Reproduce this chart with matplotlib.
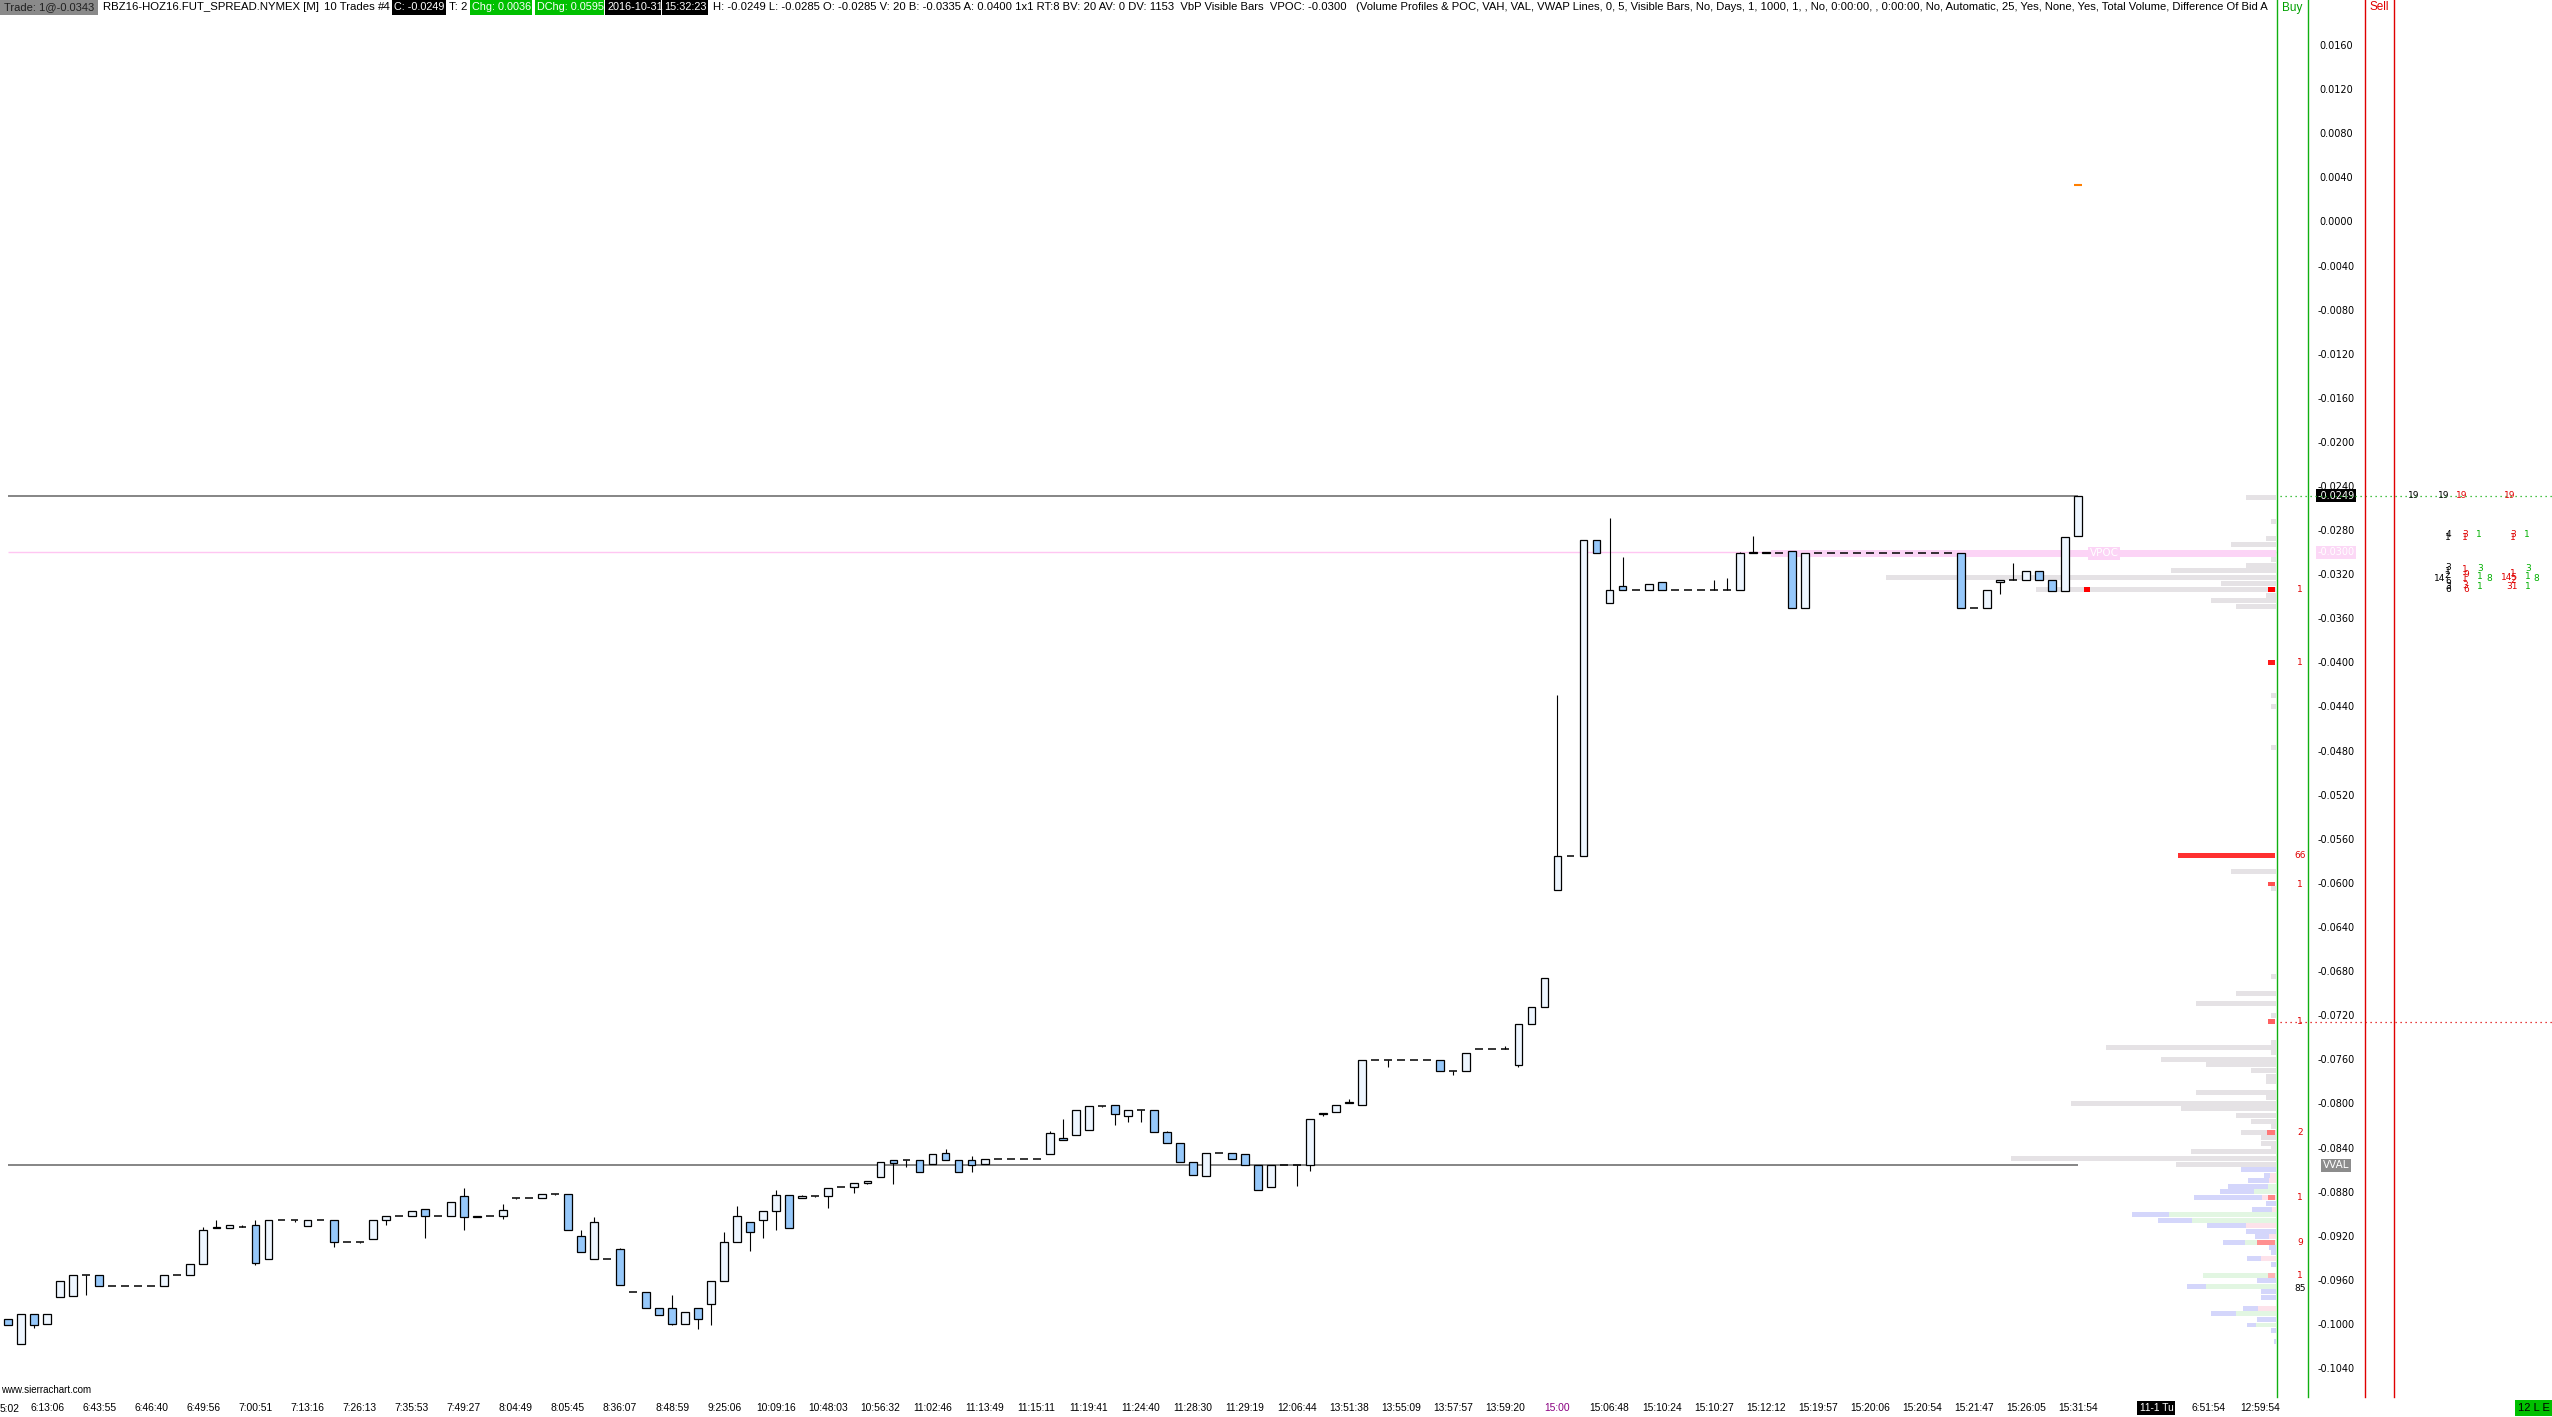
import matplotlib
matplotlib.use('Agg')
import matplotlib.pyplot as plt
from matplotlib.lines import Line2D
from matplotlib.patches import Rectangle
import numpy as np

W, H, DPI = 2552, 1417, 100
X0, DX = 8.1, 13.02          # px of bar 0, px per bar
Y0, PPU = 221.4, 11025.0     # px of price 0, px per price unit
PANE_R = 2277                # green separator line (px)
FONT = 'Liberation Sans'

# ---------------- bars (one per trade bar) ----------------
opens = [
    -0.0996, -0.1018, -0.0991, -0.1000, -0.0976, -0.0975, -0.0956, -0.0956, -0.0966, -0.0966,
    -0.0966, -0.0966, -0.0966, -0.0956, -0.0956, -0.0946, -0.0912, -0.0913, -0.0912, -0.0910,
    -0.0941, -0.0906, -0.0906, -0.0911, -0.0906, -0.0906, -0.0926, -0.0926, -0.0923, -0.0906,
    -0.0902, -0.0902, -0.0896, -0.0902, -0.0902, -0.0884, -0.0903, -0.0902, -0.0902, -0.0886,
    -0.0886, -0.0886, -0.0882, -0.0882, -0.0920, -0.0941, -0.0941, -0.0932, -0.0971, -0.0971,
    -0.0986, -0.0986, -0.1000, -0.0986, -0.0982, -0.0961, -0.0926, -0.0908, -0.0906, -0.0898,
    -0.0883, -0.0886, -0.0884, -0.0884, -0.0876, -0.0876, -0.0872, -0.0867, -0.0851, -0.0851,
    -0.0851, -0.0855, -0.0845, -0.0851, -0.0851, -0.0855, -0.0850, -0.0850, -0.0850, -0.0850,
    -0.0846, -0.0831, -0.0829, -0.0824, -0.0802, -0.0801, -0.0811, -0.0806, -0.0806, -0.0826,
    -0.0836, -0.0853, -0.0866, -0.0845, -0.0845, -0.0846, -0.0856, -0.0876, -0.0856, -0.0856,
    -0.0856, -0.0810, -0.0808, -0.0800, -0.0801, -0.0761, -0.0761, -0.0761, -0.0761, -0.0761,
    -0.0761, -0.0771, -0.0771, -0.0751, -0.0751, -0.0751, -0.0765, -0.0728, -0.0713, -0.0606,
    -0.0576, -0.0576, -0.0289, -0.0346, -0.0331, -0.0334, -0.0334, -0.0327, -0.0334, -0.0334,
    -0.0334, -0.0334, -0.0334, -0.0334, -0.0300, -0.0300, -0.0301, -0.0299, -0.0351, -0.0301,
    -0.0301, -0.0301, -0.0301, -0.0301, -0.0301, -0.0301, -0.0301, -0.0301, -0.0301, -0.0301,
    -0.0301, -0.0351, -0.0351, -0.0327, -0.0325, -0.0325, -0.0317, -0.0325, -0.0335, -0.0285,
]
highs = [
    -0.0996, -0.0991, -0.0991, -0.0991, -0.0961, -0.0956, -0.0956, -0.0956, -0.0966, -0.0966,
    -0.0966, -0.0966, -0.0956, -0.0956, -0.0946, -0.0912, -0.0906, -0.0910, -0.0910, -0.0906,
    -0.0906, -0.0906, -0.0906, -0.0906, -0.0906, -0.0906, -0.0926, -0.0926, -0.0906, -0.0902,
    -0.0902, -0.0898, -0.0896, -0.0902, -0.0889, -0.0877, -0.0902, -0.0902, -0.0891, -0.0886,
    -0.0886, -0.0882, -0.0882, -0.0882, -0.0915, -0.0903, -0.0941, -0.0931, -0.0971, -0.0971,
    -0.0986, -0.0974, -0.0989, -0.0986, -0.0961, -0.0917, -0.0893, -0.0908, -0.0898, -0.0879,
    -0.0883, -0.0883, -0.0884, -0.0877, -0.0876, -0.0872, -0.0870, -0.0853, -0.0851, -0.0851,
    -0.0851, -0.0846, -0.0841, -0.0851, -0.0848, -0.0850, -0.0850, -0.0850, -0.0850, -0.0850,
    -0.0825, -0.0814, -0.0806, -0.0802, -0.0802, -0.0801, -0.0806, -0.0806, -0.0806, -0.0825,
    -0.0836, -0.0853, -0.0845, -0.0845, -0.0845, -0.0846, -0.0856, -0.0856, -0.0856, -0.0856,
    -0.0814, -0.0809, -0.0801, -0.0796, -0.0761, -0.0761, -0.0761, -0.0761, -0.0761, -0.0761,
    -0.0761, -0.0771, -0.0754, -0.0751, -0.0751, -0.0748, -0.0728, -0.0713, -0.0686, -0.0430,
    -0.0576, -0.0289, -0.0289, -0.0269, -0.0304, -0.0334, -0.0329, -0.0327, -0.0334, -0.0334,
    -0.0334, -0.0325, -0.0323, -0.0300, -0.0285, -0.0300, -0.0301, -0.0299, -0.0301, -0.0301,
    -0.0301, -0.0301, -0.0301, -0.0301, -0.0301, -0.0301, -0.0301, -0.0301, -0.0301, -0.0301,
    -0.0301, -0.0351, -0.0334, -0.0325, -0.0310, -0.0317, -0.0317, -0.0325, -0.0286, -0.0249,
]
lows = [
    -0.1001, -0.1018, -0.1004, -0.1000, -0.0976, -0.0975, -0.0974, -0.0966, -0.0966, -0.0966,
    -0.0966, -0.0966, -0.0966, -0.0956, -0.0956, -0.0946, -0.0913, -0.0913, -0.0912, -0.0947,
    -0.0941, -0.0906, -0.0908, -0.0911, -0.0906, -0.0930, -0.0926, -0.0927, -0.0923, -0.0910,
    -0.0902, -0.0902, -0.0922, -0.0902, -0.0902, -0.0915, -0.0903, -0.0902, -0.0905, -0.0887,
    -0.0886, -0.0886, -0.0883, -0.0915, -0.0935, -0.0941, -0.0941, -0.0965, -0.0971, -0.0986,
    -0.0992, -0.1001, -0.1000, -0.1005, -0.1001, -0.0961, -0.0926, -0.0934, -0.0922, -0.0915,
    -0.0913, -0.0886, -0.0885, -0.0895, -0.0876, -0.0881, -0.0873, -0.0867, -0.0873, -0.0858,
    -0.0862, -0.0855, -0.0851, -0.0862, -0.0862, -0.0855, -0.0850, -0.0850, -0.0850, -0.0850,
    -0.0846, -0.0833, -0.0829, -0.0824, -0.0803, -0.0820, -0.0817, -0.0817, -0.0826, -0.0836,
    -0.0853, -0.0865, -0.0866, -0.0845, -0.0850, -0.0856, -0.0879, -0.0876, -0.0856, -0.0875,
    -0.0861, -0.0811, -0.0808, -0.0800, -0.0801, -0.0761, -0.0767, -0.0761, -0.0761, -0.0761,
    -0.0771, -0.0774, -0.0771, -0.0751, -0.0751, -0.0751, -0.0767, -0.0728, -0.0713, -0.0606,
    -0.0576, -0.0576, -0.0301, -0.0346, -0.0334, -0.0334, -0.0334, -0.0334, -0.0334, -0.0334,
    -0.0334, -0.0334, -0.0334, -0.0334, -0.0301, -0.0301, -0.0301, -0.0351, -0.0351, -0.0301,
    -0.0301, -0.0301, -0.0301, -0.0301, -0.0301, -0.0301, -0.0301, -0.0301, -0.0301, -0.0301,
    -0.0351, -0.0351, -0.0351, -0.0338, -0.0325, -0.0325, -0.0325, -0.0335, -0.0335, -0.0285,
]
closes = [
    -0.1001, -0.0991, -0.1001, -0.0991, -0.0961, -0.0956, -0.0956, -0.0966, -0.0966, -0.0966,
    -0.0966, -0.0966, -0.0956, -0.0956, -0.0946, -0.0915, -0.0913, -0.0910, -0.0912, -0.0945,
    -0.0906, -0.0906, -0.0906, -0.0906, -0.0906, -0.0926, -0.0926, -0.0926, -0.0906, -0.0902,
    -0.0902, -0.0898, -0.0902, -0.0902, -0.0889, -0.0903, -0.0902, -0.0902, -0.0897, -0.0886,
    -0.0886, -0.0882, -0.0882, -0.0915, -0.0935, -0.0908, -0.0941, -0.0965, -0.0971, -0.0986,
    -0.0992, -0.1000, -0.0989, -0.0996, -0.0961, -0.0926, -0.0902, -0.0917, -0.0898, -0.0883,
    -0.0913, -0.0884, -0.0884, -0.0877, -0.0876, -0.0872, -0.0870, -0.0853, -0.0854, -0.0851,
    -0.0862, -0.0846, -0.0851, -0.0862, -0.0856, -0.0850, -0.0850, -0.0850, -0.0850, -0.0850,
    -0.0827, -0.0833, -0.0806, -0.0802, -0.0802, -0.0810, -0.0806, -0.0806, -0.0826, -0.0836,
    -0.0853, -0.0865, -0.0845, -0.0845, -0.0850, -0.0856, -0.0879, -0.0856, -0.0856, -0.0856,
    -0.0814, -0.0809, -0.0801, -0.0799, -0.0761, -0.0761, -0.0761, -0.0761, -0.0761, -0.0761,
    -0.0771, -0.0771, -0.0754, -0.0751, -0.0751, -0.0751, -0.0728, -0.0713, -0.0686, -0.0576,
    -0.0576, -0.0289, -0.0301, -0.0334, -0.0334, -0.0334, -0.0329, -0.0334, -0.0334, -0.0334,
    -0.0334, -0.0334, -0.0334, -0.0301, -0.0301, -0.0301, -0.0301, -0.0351, -0.0301, -0.0301,
    -0.0301, -0.0301, -0.0301, -0.0301, -0.0301, -0.0301, -0.0301, -0.0301, -0.0301, -0.0301,
    -0.0351, -0.0351, -0.0334, -0.0325, -0.0325, -0.0317, -0.0325, -0.0335, -0.0286, -0.0249,
]

tick_bars = list(range(3, 160, 4)) + [165, 169, 173]
tick_labels = [
    '6:13:06', '6:43:55', '6:46:40', '6:49:56', '7:00:51', '7:13:16', '7:26:13', '7:35:53',
    '7:49:27', '8:04:49', '8:05:45', '8:36:07', '8:48:59', '9:25:06', '10:09:16', '10:48:03',
    '10:56:32', '11:02:46', '11:13:49', '11:15:11', '11:19:41', '11:24:40', '11:28:30', '11:29:19',
    '12:06:44', '13:51:38', '13:55:09', '13:57:57', '13:59:20', '15:00', '15:06:48', '15:10:24',
    '15:10:27', '15:12:12', '15:19:57', '15:20:06', '15:20:54', '15:21:47', '15:26:05', '15:31:54',
    '11-1 Tu', '6:51:54', '12:59:54',
]
price_ticks = [round(0.016 - 0.004 * k, 4) for k in range(31)]

# ---------------- volume profile (visible bars) ----------------
vp_price = [-0.0250, -0.0272, -0.0288, -0.0293, -0.0307, -0.0312, -0.0317, -0.0323, -0.0328,
            -0.0334, -0.0339, -0.0344, -0.0349, -0.0430, -0.0440, -0.0477, -0.0590, -0.0605,
            -0.0685, -0.0700, -0.0709, -0.0720, -0.0745, -0.0749, -0.0754, -0.0760, -0.0765,
            -0.0770, -0.0776, -0.0780, -0.0790, -0.0795, -0.0800, -0.0805, -0.0811, -0.0816,
            -0.0821, -0.0826, -0.0831, -0.0836, -0.0840, -0.0844, -0.0850, -0.0855]
vp_volume = [6, 1, 2, 9, 1, 6, 21, 78, 11, 48, 2, 13, 8, 1, 1, 1, 9, 1,
             1, 8, 16, 1, 1, 34, 1, 23, 14, 5, 2, 2, 16, 2, 41, 19, 8, 5,
             1, 7, 3, 3, 1, 17, 53, 20]
poc_price, poc_volume = -0.0301, 101

# rows below the value area: bid part (blue) + other part (green = ask, pink = mixed)
cv_price = [-0.0860, -0.0865, -0.0870, -0.0875, -0.0880, -0.0885, -0.0891, -0.0896, -0.0901,
            -0.0906, -0.0911, -0.0916, -0.0921, -0.0926, -0.0931, -0.0935, -0.0941, -0.0946,
            -0.0956, -0.0961, -0.0966, -0.0971, -0.0976, -0.0986, -0.0991, -0.0996, -0.1001,
            -0.1006, -0.1016]
cv_blue = [7, 1.2, 4.2, 8, 6.8, 13.6, 2, 4, 7.4, 6.8, 7.8, 6, 2.8, 4.4, 1.4, 1, 2.8, 1,
           0, 3.8, 3.8, 3, 3, 3, 5, 3.8, 1.8, 1, 0.4]
cv_other = [0, 1.2, 1.4, 1.6, 4.4, 2.8, 0, 0.8, 21.4, 16.8, 6, 0, 1.4, 6.2, 0, 0, 3, 0,
            14.6, 0, 14, 0, 0, 3.6, 8, 0, 4, 0, 0]
cv_kind = ['g', 'p', 'p', 'g', 'g', 'p', 'g', 'p', 'g', 'g', 'p', 'g', 'p', 'g', 'g', 'g', 'p', 'g',
           'g', 'g', 'g', 'g', 'g', 'p', 'g', 'g', 'g', 'g', 'g']

# difference of bid/ask markers
dd_price = [-0.0334, -0.0400, -0.0575, -0.0601, -0.0726, -0.0826, -0.0885, -0.0926, -0.0956]
dd_volume = [1.4, 1.4, 19.4, 1.4, 1.4, 1.6, 1.4, 3.6, 1.4]
dd_count = ['1', '1', '66', '1', '1', '2', '1', '9', '1']
dd_color = ['#ff0000', '#ff1a1a', '#ff3030', '#ff5050', '#ff6060', '#ff7878', '#ff8888', '#ff9090', '#ffb4b4']

# numbers right of the sell column
nt_x = [2414, 2444, 2462, 2510, 2448, 2448, 2465, 2465, 2479, 2513, 2513, 2527,
        2448, 2448, 2447, 2440, 2448, 2448, 2448, 2465, 2466, 2465, 2465, 2466, 2480, 2480, 2480, 2489,
        2510, 2513, 2513, 2512, 2528, 2528, 2528, 2536]
nt_price = [-0.0249, -0.0249, -0.0249, -0.0249, -0.0284, -0.0287, -0.0284, -0.0287, -0.0284, -0.0284, -0.0287, -0.0284,
            -0.0314, -0.0318, -0.0321, -0.0324, -0.0327, -0.0331, -0.0334, -0.0316, -0.0320, -0.0324, -0.0330, -0.0334,
            -0.0315, -0.0322, -0.0331, -0.0324,
            -0.0323, -0.0319, -0.0326, -0.0331, -0.0315, -0.0322, -0.0331, -0.0324]
nt_text = ['19', '19', '19', '19', '4', '1', '3', '1', '1', '3', '1', '1',
           '3', '1', '2', '14', '6', '3', '6', '1', '9', '1', '3', '6', '3', '1', '1', '8',
           '145', '1', '2', '31', '3', '1', '1', '8']
nt_color = ['black', 'black', '#e00000', '#e00000'] + ['black', 'black', '#e00000', '#e00000', '#00b000',
            '#e00000', '#e00000', '#00b000'] + ['black'] * 7 + ['#e00000'] * 5 + ['#00b000'] * 4 + \
           ['#e00000'] * 4 + ['#00b000'] * 4

# ---------------- figure ----------------
fig = plt.figure(figsize=(W / DPI, H / DPI), dpi=DPI)
fig.patch.set_facecolor('white')


def fx(px):
    return px / W


def fy(py):
    return 1 - py / H


def py_of(p):
    return Y0 - p * PPU


TOP, BOT = 14, 1395
ax = fig.add_axes([0, fy(BOT), fx(PANE_R), (BOT - TOP) / H])
ax.set_xlim(-X0 / DX, (PANE_R - X0) / DX)
ax.set_ylim((Y0 - BOT) / PPU, (Y0 - TOP) / PPU)
for s in ax.spines.values():
    s.set_visible(False)

o = np.array(opens)
c = np.array(closes)
hi = np.array(highs)
lo = np.array(lows)
idx = np.arange(len(o))
up = c > o + 1e-9
dn = c < o - 1e-9
fl = ~(up | dn)
bw = 0.6

ax.vlines(idx, lo, hi, color='black', lw=0.8, zorder=3)
ax.bar(idx[up], (c - o)[up], bottom=o[up], width=bw, color='#eef6ff', edgecolor='black', lw=0.9, zorder=4)
ax.bar(idx[dn], (o - c)[dn], bottom=c[dn], width=bw, color='#96c8fa', edgecolor='black', lw=0.9, zorder=4)
ax.hlines(o[fl], idx[fl] - bw / 2, idx[fl] + bw / 2, color='black', lw=1.1, zorder=4)

anchor = (PANE_R - 1 - X0) / DX
v2b = 5.0 / DX   # volume units -> bar widths
rh = 0.00045

# value area high / low lines, VPOC line
ax.hlines([-0.0249, -0.0856], 0, len(o) - 1, color='#7c7c7c', lw=1.3, zorder=2)
ax.hlines(-0.0300, 0, anchor, color='#ffc6f2', lw=1.0, zorder=1)

vl = np.array(vp_volume) * v2b
ax.barh(vp_price, vl, left=anchor - vl, height=rh, color='#e5e2e5', lw=0, zorder=1.5)
ax.barh(poc_price, poc_volume * v2b, left=anchor - poc_volume * v2b, height=0.0006, color='#fcd4f6', lw=0, zorder=1.6)
cb = np.array(cv_blue) * v2b
co = np.array(cv_other) * v2b
ocol = ['#e2f6e2' if k == 'g' else '#fde2ea' for k in cv_kind]
ax.barh(cv_price, co, left=anchor - co, height=rh, color=ocol, lw=0, zorder=1.5)
ax.barh(cv_price, cb, left=anchor - co - cb, height=rh, color='#d4d6fb', lw=0, zorder=1.5)
dl = np.array(dd_volume) * v2b
ax.barh(dd_price, dl, left=anchor - 0.1 - dl, height=0.00045, color=dd_color, lw=0, zorder=2)

# markers near the last bar
ax.bar(159.7, 0.0004, bottom=-0.0336, width=0.45, color='#ff0000', lw=0, zorder=5)
ax.hlines(0.0033, 158.7, 159.3, color='#ff7f00', lw=1.5, zorder=5)
ax.text(161.0, -0.0301, 'VPOC', ha='center', va='center', color='white', fontsize=7.5,
        fontfamily='DejaVu Sans', zorder=6,
        bbox=dict(boxstyle='square,pad=0.15', fc='#fcd4f6', ec='none'))

# y axis labels (centered in price column)
ax.set_yticks(price_ticks)
ax.set_yticklabels(['%.4f' % (v if abs(v) > 1e-9 else 0.0) for v in price_ticks])
ax.yaxis.tick_right()
ax.tick_params(axis='y', length=0, pad=(2336 - PANE_R) * 72 / DPI, labelsize=7)
for t in ax.get_yticklabels():
    t.set_ha('center')
    t.set_fontfamily('DejaVu Sans')

# x axis labels
ax.set_xticks(tick_bars)
ax.set_xticklabels(tick_labels)
ax.tick_params(axis='x', length=0, pad=6, labelsize=7.4)
for t in ax.get_xticklabels():
    t.set_fontfamily(FONT)
    if t.get_text() == '11-1 Tu':
        t.set_color('white')
        t.set_bbox(dict(boxstyle='square,pad=0.2', fc='black', ec='none'))
    elif t.get_text() == '15:00':
        t.set_color('#8a0080')

# special price-axis boxes
xa = 2336 / PANE_R
ax.text(xa, -0.0249, '-0.0249', transform=ax.get_yaxis_transform(), ha='center', va='center',
        color='white', fontsize=7, fontfamily='DejaVu Sans', zorder=8, clip_on=False,
        bbox=dict(boxstyle='square,pad=0.15', fc='black', ec='none'))
ax.text(xa, -0.0300, '-0.0300', transform=ax.get_yaxis_transform(), ha='center', va='center',
        color='white', fontsize=7, fontfamily='DejaVu Sans', zorder=8, clip_on=False,
        bbox=dict(boxstyle='square,pad=0.15', fc='#fcd8f6', ec='none'))
ax.text(xa, -0.0856, 'VVAL', transform=ax.get_yaxis_transform(), ha='center', va='center',
        color='white', fontsize=7.5, fontfamily='DejaVu Sans', zorder=8, clip_on=False,
        bbox=dict(boxstyle='square,pad=0.15', fc='#8c8c8c', ec='none'))

# bid/ask difference counts
for p, s in zip(dd_price, dd_count):
    ax.text(2300 / PANE_R, p, s, transform=ax.get_yaxis_transform(), ha='center', va='center',
            color='#e00000', fontsize=6.5, fontfamily='DejaVu Sans', clip_on=False)
ax.text(2300 / PANE_R, -0.0968, '85', transform=ax.get_yaxis_transform(), ha='center', va='center',
        color='black', fontsize=6.5, fontfamily='DejaVu Sans', clip_on=False)

# ---------------- separators and dotted level lines ----------------
for x, col in [(2277, '#10b010'), (2308, '#10b010'), (2365, '#e00000'), (2394, '#e00000')]:
    fig.add_artist(Line2D([fx(x), fx(x)], [fy(0), fy(1397)], transform=fig.transFigure,
                          color=col, lw=1.0))
for p, col in [(-0.0249, '#10b010'), (-0.0726, '#e00000')]:
    fig.add_artist(Line2D([fx(2280), fx(W)], [fy(py_of(p)), fy(py_of(p))], transform=fig.transFigure,
                          color=col, lw=0.9, ls=(0, (1, 3)), zorder=0.5))

for x, p, s, col in zip(nt_x, nt_price, nt_text, nt_color):
    fig.text(fx(x), fy(py_of(p)), s, ha='center', va='center', color=col, fontsize=6.5,
             fontfamily='DejaVu Sans')

# ---------------- header line ----------------
hx = fig.add_axes([0, fy(15), fx(PANE_R), 15 / H])
hx.set_xlim(0, PANE_R)
hx.set_ylim(15, 0)
hx.set_axis_off()
hdr_boxes = [(0, 98, '#8a8a8a'), (392, 446, 'black'), (470, 532, '#00c000'), (535, 604, '#00c000'),
             (605, 661, 'black'), (662, 708, 'black')]
for x0, x1, col in hdr_boxes:
    hx.add_patch(Rectangle((x0, 0), x1 - x0, 15, fc=col, ec='none'))
hdr_x = [4, 103, 324, 378, 394, 449, 472, 537, 607, 664, 713]
hdr_size = [8.0, 8.2, 8.2, 8.2, 7.8, 8.2, 7.8, 7.8, 7.8, 7.8, 8.1]
hdr_text = ['Trade: 1@-0.0343', 'RBZ16-HOZ16.FUT_SPREAD.NYMEX [M]', '10 Trades', '#4', 'C: -0.0249', 'T: 2',
            'Chg: 0.0036', 'DChg: 0.0595', '2016-10-31', '15:32:23',
            'H: -0.0249 L: -0.0285 O: -0.0285 V: 20 B: -0.0335 A: 0.0400 1x1 RT:8 BV: 20 AV: 0 DV: 1153  '
            'VbP Visible Bars  VPOC: -0.0300   (Volume Profiles & POC, VAH, VAL, VWAP Lines, 0, 5, Visible Bars, '
            'No, Days, 1, 1000, 1, , No, 0:00:00, , 0:00:00, No, Automatic, 25, Yes, None, Yes, Total Volume, '
            'Difference Of Bid A']
hdr_col = ['#202020', 'black', 'black', 'black', 'white', 'black', 'white', 'white', 'white', 'white', 'black']
for x, s, col, sz in zip(hdr_x, hdr_text, hdr_col, hdr_size):
    hx.text(x, 7.5, s, ha='left', va='center', color=col, fontsize=sz, fontfamily=FONT, clip_on=True)

fig.text(fx(2282), fy(7.5), 'Buy', ha='left', va='center', color='#00a000', fontsize=8.5, fontfamily=FONT)
fig.text(fx(2370), fy(7.5), 'Sell', ha='left', va='center', color='#e00000', fontsize=8.5, fontfamily=FONT)

# ---------------- footer bits ----------------
fig.text(fx(1), fy(1390), 'www.sierrachart.com', ha='left', va='center', fontsize=7, fontfamily=FONT)
fig.text(fx(0), fy(1409), '5:02', ha='left', va='center', fontsize=7.4, fontfamily=FONT)
fig.text(fx(2534), fy(1408), '12 L E', ha='center', va='center', fontsize=8, fontfamily=FONT,
         color='black', bbox=dict(boxstyle='square,pad=0.25', fc='#00c000', ec='none'))

fig.savefig('out.png', dpi=DPI, facecolor='white')
